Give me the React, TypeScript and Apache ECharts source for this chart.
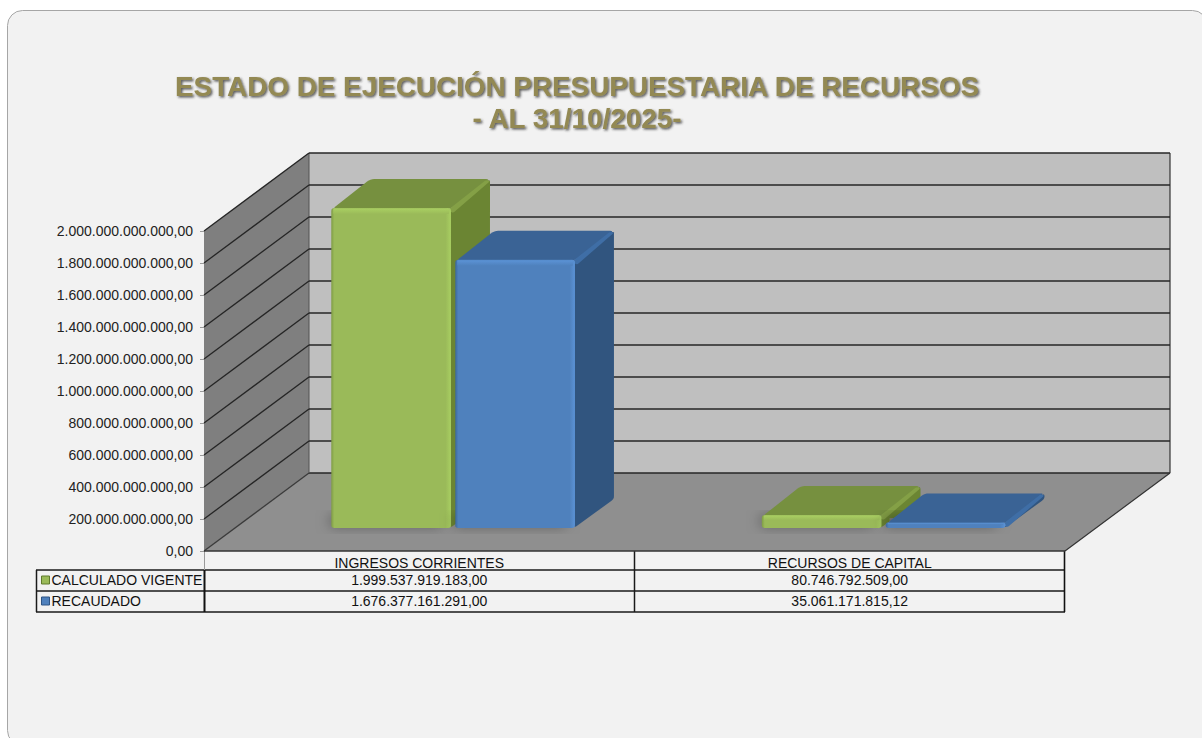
import React, { useEffect, useRef } from "react";
import * as echarts from "echarts";

const titleLines = ["ESTADO DE EJECUCIÓN PRESUPUESTARIA DE RECURSOS", "- AL 31/10/2025-"];
const categories = ["INGRESOS CORRIENTES", "RECURSOS DE CAPITAL"];
const calculadoVigente = [1999537919183.0, 80746792509.0];
const recaudado = [1676377161291.0, 35061171815.12];
const yTicks = [0, 2e11, 4e11, 6e11, 8e11, 1e12, 1.2e12, 1.4e12, 1.6e12, 1.8e12, 2e12];

const FONT = '"Liberation Sans", Arial, sans-serif';
const DEPTH_X = 105;
const DEPTH_Y = 78;
const ROW_Y = [579.5, 600.5];

function fmt(v: number): string {
  const [i, d] = v.toFixed(2).split(".");
  return i.replace(/\B(?=(\d{3})+(?!\d))/g, ".") + "," + d;
}

function roundPoly(pts: number[][], r: number): number[][] {
  const out: number[][] = [];
  const n = pts.length;
  for (let i = 0; i < n; i++) {
    const p = pts[i];
    const a = pts[(i + n - 1) % n];
    const b = pts[(i + 1) % n];
    const la = Math.hypot(a[0] - p[0], a[1] - p[1]) || 1;
    const lb = Math.hypot(b[0] - p[0], b[1] - p[1]) || 1;
    const ra = Math.min(r, la / 2);
    const rb = Math.min(r, lb / 2);
    const s = [p[0] + ((a[0] - p[0]) * ra) / la, p[1] + ((a[1] - p[1]) * ra) / la];
    const e = [p[0] + ((b[0] - p[0]) * rb) / lb, p[1] + ((b[1] - p[1]) * rb) / lb];
    for (let t = 0; t <= 4; t++) {
      const u = t / 4;
      out.push([
        (1 - u) * (1 - u) * s[0] + 2 * u * (1 - u) * p[0] + u * u * e[0],
        (1 - u) * (1 - u) * s[1] + 2 * u * (1 - u) * p[1] + u * u * e[1],
      ]);
    }
  }
  return out;
}

type Pal = { front: string; hi: string; low: string; top: string; topHi: string; side: string };
const green: Pal = { front: "#9aba59", hi: "#a9cf62", low: "#7f9c45", top: "#76903f", topHi: "#84a046", side: "#6b8533" };
const blue: Pal = { front: "#4f81bd", hi: "#5b93d6", low: "#3b689c", top: "#3a6395", topHi: "#3f6ea6", side: "#31557f" };

function barRenderer(offset: number, pal: Pal, rowY: number) {
  return (_params: any, api: any) => {
    const cat = api.value(0);
    const val = api.value(1);
    const band = api.size([1, 0])[0];
    const base = api.coord([cat, 0]);
    const head = api.coord([cat, val]);
    const w = band * 0.278;
    const shiftX = 30;
    const shiftY = 23;
    const dx = 39;
    const dy = 29;
    const x0 = base[0] + shiftX + offset * band;
    const x1 = x0 + w;
    const yB = base[1] - shiftY;
    const yT = head[1] - shiftY;
    const h = yB - yT;
    const bev = Math.min(6, h / 2.5);
    const poly = (pts: number[][], fill: any, r = 0) => ({
      type: "polygon",
      shape: { points: r ? roundPoly(pts, r) : pts },
      style: { fill },
    });
    const hGrad = {
      type: "linear", x: 0, y: 0, x2: 1, y2: 0,
      colorStops: [
        { offset: 0, color: pal.low },
        { offset: 0.025, color: pal.front },
        { offset: 0.955, color: pal.front },
        { offset: 1, color: pal.hi },
      ],
    };
    const vGrad = {
      type: "linear", x: 0, y: 0, x2: 0, y2: 1,
      colorStops: [
        { offset: 0, color: pal.hi },
        { offset: 1, color: pal.front },
      ],
    };
    return {
      type: "group",
      children: [
        {
          type: "rect",
          shape: { x: x0 + 4, y: yB - 10, width: w - 8, height: 8 },
          style: { fill: "#6a6a6a", shadowBlur: 14, shadowColor: "rgba(0,0,0,0.5)", shadowOffsetX: -5, shadowOffsetY: -1 },
        },
        poly([[x1 - 1, yT + 1], [x1 + dx, yT - dy], [x1 + dx, yB - dy], [x1 - 1, yB]], pal.side, 3),
        poly([[x0 + 1, yT + 1], [x0 + dx, yT - dy], [x1 + dx, yT - dy], [x1 - 1, yT + 1]], pal.top, 4),
        poly([[x1 - 3, yT + 2], [x1 + dx - 4, yT - dy + 1], [x1 + dx, yT - dy + 2], [x1 + 2, yT + 5]], pal.topHi, 2),
        poly([[x0, yT], [x1, yT], [x1, yB], [x0, yB]], hGrad, 3),
        poly([[x0 + 2, yT + 0.5], [x1 - 2, yT + 0.5], [x1 - 2, yT + bev], [x0 + 2, yT + bev]], vGrad, 1),
        {
          type: "text",
          x: base[0],
          y: rowY,
          style: { text: fmt(val), fill: "#111", font: `14px ${FONT}`, align: "center", verticalAlign: "middle" },
        },
      ],
    };
  };
}

function wallTickRenderer(params: any, api: any) {
  const cs = params.coordSys;
  const p = api.coord([0, api.value(0)]);
  const y = p[1];
  const xL = cs.x;
  const color = "#262626";
  const isBase = api.value(0) === 0;
  const children: any[] = [
    {
      type: "line",
      shape: { x1: xL, y1: y, x2: xL + DEPTH_X, y2: y - DEPTH_Y },
      style: { stroke: isBase ? "#3a3a3a" : color, lineWidth: 1.3 },
    },
    {
      type: "line",
      shape: { x1: xL + DEPTH_X, y1: y - DEPTH_Y, x2: xL + cs.width + DEPTH_X, y2: y - DEPTH_Y },
      style: { stroke: color, lineWidth: 1.3 },
    },
  ];
  if (isBase) {
    children.unshift(
      {
        type: "polygon",
        shape: { points: [[xL, cs.y], [xL + DEPTH_X, cs.y - DEPTH_Y], [xL + DEPTH_X, y - DEPTH_Y], [xL, y]] },
        style: { fill: "#7f7f7f" },
      },
      {
        type: "rect",
        shape: { x: xL + DEPTH_X, y: cs.y - DEPTH_Y, width: cs.width, height: cs.height },
        style: { fill: "#bfbfbf" },
      },
      {
        type: "polygon",
        shape: { points: [[xL, y], [xL + cs.width, y], [xL + cs.width + DEPTH_X, y - DEPTH_Y], [xL + DEPTH_X, y - DEPTH_Y]] },
        style: { fill: "#8f8f8f" },
      },
    );
    children.push(
      { type: "line", shape: { x1: xL, y1: y, x2: xL + cs.width, y2: y }, style: { stroke: "#333", lineWidth: 1.5 } },
      { type: "line", shape: { x1: xL + cs.width, y1: y, x2: xL + cs.width + DEPTH_X, y2: y - DEPTH_Y }, style: { stroke: "#333", lineWidth: 1.2 } },
      { type: "line", shape: { x1: xL + cs.width + DEPTH_X, y1: y - DEPTH_Y, x2: xL + cs.width + DEPTH_X, y2: cs.y - DEPTH_Y }, style: { stroke: "#333", lineWidth: 1.2 } },
      { type: "line", shape: { x1: xL + DEPTH_X, y1: y - DEPTH_Y, x2: xL + DEPTH_X, y2: cs.y - DEPTH_Y }, style: { stroke: "#555", lineWidth: 1 } },
    );
  }
  return { type: "group", children };
}

const tableLine = (x1: number, y1: number, x2: number, y2: number, stroke = "#1a1a1a", lineWidth = 1.5) => ({
  type: "line",
  silent: true,
  shape: { x1, y1, x2, y2 },
  style: { stroke, lineWidth },
});

export default function App() {
  const ref = useRef<HTMLDivElement>(null);
  useEffect(() => {
    document.body.style.margin = "0";
    document.body.style.background = "#ffffff";
    const chart = echarts.init(ref.current!, null, { renderer: "svg" });
    chart.setOption({
      animation: false,
      backgroundColor: "#ffffff",
      title: {
        text: titleLines.join("\n"),
        left: 572,
        top: 65,
        textAlign: "center",
        textStyle: {
          fontFamily: FONT,
          fontSize: 27.85,
          fontWeight: "bold",
          color: "#938953",
          lineHeight: 32,
          textShadowColor: "rgba(40,40,40,0.75)",
          textShadowBlur: 2,
          textShadowOffsetX: 1.5,
          textShadowOffsetY: 1.5,
        },
      },
      legend: {
        orient: "vertical",
        left: 36,
        top: 568,
        itemWidth: 8,
        itemHeight: 8,
        itemGap: 7,
        icon: "rect",
        selectedMode: false,
        data: [
          { name: "CALCULADO VIGENTE", itemStyle: { borderColor: "#5f7a2d", borderWidth: 1 } },
          { name: "RECAUDADO", itemStyle: { borderColor: "#2f5585", borderWidth: 1 } },
        ],
        textStyle: { fontFamily: FONT, fontSize: 14, color: "#111", padding: [0, 0, 0, -3] },
      },
      grid: { left: 204, top: 231, width: 861, height: 320, containLabel: false },
      xAxis: {
        type: "category",
        data: categories,
        axisLine: { show: false },
        axisTick: { show: false },
        axisLabel: { margin: 5, fontFamily: FONT, fontSize: 14, color: "#111" },
      },
      yAxis: {
        type: "value",
        min: 0,
        max: 2e12,
        interval: 2e11,
        splitLine: { show: false },
        axisLine: { show: true, lineStyle: { color: "#9a9a9a", width: 1 } },
        axisTick: { show: true, length: 4, lineStyle: { color: "#9a9a9a" } },
        axisLabel: {
          margin: 11,
          fontFamily: FONT,
          fontSize: 14,
          color: "#222",
          padding: [4, 0, 0, 0],
          formatter: (v: number) => fmt(v),
        },
      },
      graphic: {
        elements: [
          {
            type: "rect",
            z: -10,
            silent: true,
            shape: { x: 7.5, y: 10.5, width: 1200, height: 735, r: 15 },
            style: { fill: "#f2f2f2", stroke: "#a6a6a6", lineWidth: 1 },
          },
          tableLine(36, 570, 1065, 570),
          tableLine(36, 591, 1065, 591),
          tableLine(36, 612, 1065, 612),
          tableLine(36.5, 570, 36.5, 612),
          tableLine(204.5, 570, 204.5, 612, "#111", 2),
          tableLine(204.5, 551, 204.5, 570, "#9a9a9a", 1),
          tableLine(634.5, 551, 634.5, 612),
          tableLine(1064.5, 551, 1064.5, 612, "#111", 1.6),
        ],
      },
      series: [
        {
          type: "custom",
          silent: true,
          z: 1,
          data: yTicks.map((v) => [v]),
          encode: { y: 0 },
          renderItem: wallTickRenderer,
        },
        {
          type: "custom",
          name: "CALCULADO VIGENTE",
          silent: true,
          z: 2,
          itemStyle: { color: "#9bbb59" },
          data: calculadoVigente.map((v, i) => [i, v]),
          encode: { x: 0, y: 1 },
          renderItem: barRenderer(-0.274, green, ROW_Y[0]),
        },
        {
          type: "custom",
          name: "RECAUDADO",
          silent: true,
          z: 3,
          itemStyle: { color: "#4f81bd" },
          data: recaudado.map((v, i) => [i, v]),
          encode: { x: 0, y: 1 },
          renderItem: barRenderer(0.014, blue, ROW_Y[1]),
        },
      ],
    });
    return () => chart.dispose();
  }, []);
  return <div ref={ref} style={{ width: 1202, height: 738 }} />;
}
